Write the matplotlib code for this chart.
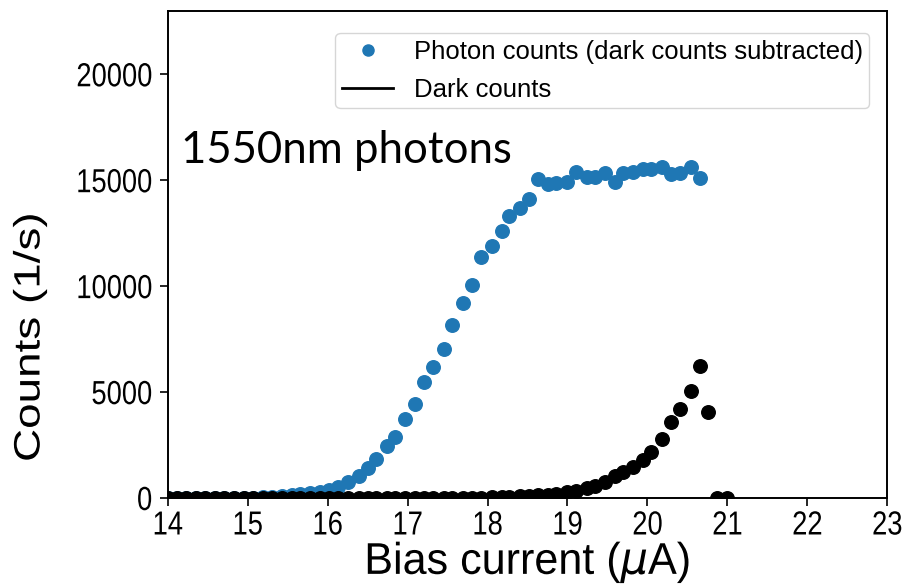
import matplotlib
matplotlib.use("Agg")
import matplotlib.pyplot as plt
from matplotlib.lines import Line2D
from matplotlib.patheffects import AbstractPathEffect
from matplotlib.transforms import Affine2D

plt.rcParams["font.family"] = ["Liberation Sans", "DejaVu Sans"]
plt.rcParams["mathtext.fontset"] = "dejavusans"


class Squeeze(AbstractPathEffect):
    """Draw text narrowed horizontally (in display space) about a pivot."""

    def __init__(self, sx, anchor="center"):
        super().__init__()
        self.sx = sx
        self.anchor = anchor

    def draw_path(self, renderer, gc, tpath, affine, rgbFace=None):
        bb = tpath.get_extents(affine)
        px = {"left": bb.x0, "right": bb.x1,
              "center": 0.5 * (bb.x0 + bb.x1)}[self.anchor]
        squeeze = Affine2D().translate(-px, 0).scale(self.sx, 1).translate(px, 0)
        renderer.draw_path(gc, tpath, affine + squeeze, rgbFace)


# Bias current sweep (uA)
bias = [14.00, 14.11, 14.23, 14.35, 14.47, 14.59, 14.71, 14.83, 14.95, 15.07,
        15.19, 15.31, 15.43, 15.55, 15.65, 15.78, 15.90, 16.02, 16.13, 16.26,
        16.39, 16.50, 16.61, 16.74, 16.84, 16.97, 17.09, 17.20, 17.32, 17.45,
        17.56, 17.69, 17.81, 17.92, 18.05, 18.18, 18.27, 18.40, 18.52, 18.63,
        18.76, 18.86, 18.99, 19.11, 19.24, 19.34, 19.47, 19.59, 19.70, 19.82,
        19.95, 20.05, 20.18, 20.30, 20.41, 20.54, 20.66]

# Photon counts with dark counts subtracted (1/s)
photon = [0, 0, 0, 0, 0, 0, 0, 0, 10, 20,
          30, 60, 100, 142, 189, 222, 298, 378, 534, 771,
          1040, 1404, 1830, 2459, 2870, 3721, 4444, 5452, 6179, 7045,
          8147, 9206, 10071, 11362, 11915, 12591, 13333, 13697, 14123, 15069,
          14799, 14879, 14927, 15400, 15163, 15163, 15352, 14910, 15352, 15400,
          15541, 15508, 15636, 15272, 15352, 15636, 15116]

# Dark counts (1/s), measured a little further in bias
dark_bias = bias + [20.76, 20.87, 21.00]
dark = [0, 0, 0, 0, 0, 0, 0, 0, 0, 0,
        0, 0, 0, 0, 0, 0, 0, 0, 0, 0,
        0, 0, 0, 0, 0, 0, 0, 0, 0, 0,
        0, 5, 10, 20, 30, 40, 50, 70, 90, 120,
        160, 210, 284, 345, 459, 582, 771, 1040, 1245, 1482,
        1797, 2190, 2790, 3608, 4193, 5073, 6208,
        4080, 0, 0]

blue = "#1f77b4"

fig = plt.figure(figsize=(9.08, 5.86), dpi=100)
ax = fig.add_axes([0.1847, 0.1502, 0.7925, 0.8315])

ax.scatter(bias, photon, s=95, color=blue, zorder=2)
ax.scatter(dark_bias, dark, s=95, color="black", zorder=3)

ax.set_xlim(14, 23)
ax.set_ylim(0, 23000)
ax.set_xticks(range(14, 24))
ax.set_yticks([0, 5000, 10000, 15000, 20000])
ax.tick_params(labelsize=24, length=6, width=1.2)
ax.tick_params(axis="x", pad=3)
ax.tick_params(axis="y", pad=5)
for sp in ax.spines.values():
    sp.set_linewidth(1.4)

for lbl in ax.get_xticklabels():
    lbl.set_path_effects([Squeeze(0.82, "center")])
for lbl in ax.get_yticklabels():
    lbl.set_path_effects([Squeeze(0.82, "right")])

ax.set_xlabel(r"Bias current ($\mu$A)", fontsize=32, labelpad=-1,
              path_effects=[Squeeze(0.97, "center")])
ax.set_ylabel("Counts (1/s)", fontsize=33,
              path_effects=[Squeeze(0.8, "center")])
ax.yaxis.set_label_coords(-0.161, 0.33)

handles = [
    Line2D([], [], marker="o", linestyle="none", color=blue, markersize=8),
    Line2D([], [], color="black", linewidth=2),
]
ax.legend(handles, ["Photon counts (dark counts subtracted)", "Dark counts"],
          loc="upper right", fontsize=18.5, frameon=True,
          bbox_to_anchor=(0.993, 0.98), handletextpad=0.8,
          borderpad=0.25, labelspacing=0.55)

ax.text(0.018, 0.687, "1550nm photons", transform=ax.transAxes,
        fontsize=31.5, family=["Lato", "DejaVu Sans"], va="baseline")

fig.savefig("out.png", dpi=100)
